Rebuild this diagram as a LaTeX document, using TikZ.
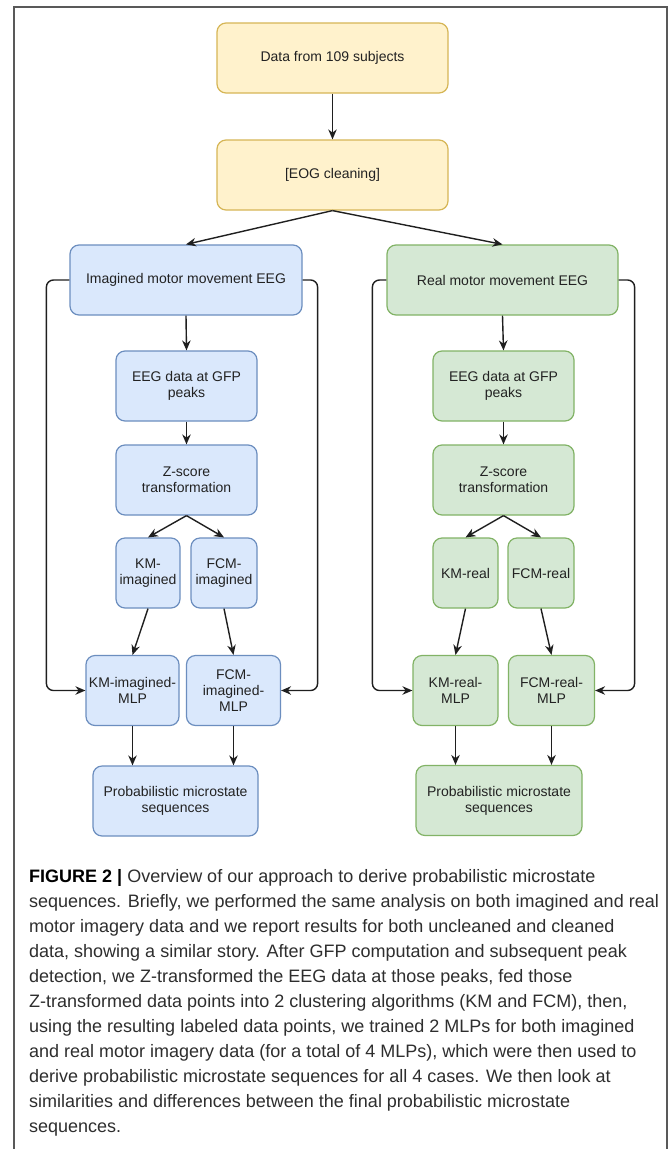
\documentclass[tikz,border=0pt]{standalone}
\usepackage{fontspec}
\setmainfont{Liberation Sans}
\usetikzlibrary{arrows.meta}
\definecolor{yelfill}{HTML}{FFF2CC}
\definecolor{yeldraw}{HTML}{D6B656}
\definecolor{blufill}{HTML}{DAE8FC}
\definecolor{bludraw}{HTML}{6C8EBF}
\definecolor{grnfill}{HTML}{D5E8D4}
\definecolor{grndraw}{HTML}{82B366}
\definecolor{boxtext}{HTML}{222222}
\tikzset{
  box/.style={rectangle, rounded corners=9pt, line width=1.2pt, minimum height=70pt,
    inner sep=2pt, align=center, text=boxtext, font=\fontsize{14}{16}\selectfont},
  yel/.style={box, fill=yelfill, draw=yeldraw},
  blu/.style={box, fill=blufill, draw=bludraw},
  grn/.style={box, fill=grnfill, draw=grndraw},
  arr/.style={-{Stealth[length=10pt,width=8.5pt]}, line width=1.4pt, color=black!88},
  capt/.style={inner sep=0pt, text=black!82, font=\fontsize{18}{25}\selectfont}
}

\begin{document}
\begin{tikzpicture}[x=1pt,y=-1pt]
  \useasboundingbox (0,0) rectangle (669,1149);
  \fill[white] (0,0) rectangle (669,1149);
  \draw[line width=1.5pt, black!65] (14,1149) -- (14,7) -- (667,7) -- (667,1149);

  \node[yel, minimum width=231pt] (data) at (332.5,58) {Data from 109 subjects};
  \node[yel, minimum width=231pt] (eog) at (332.5,175) {[EOG cleaning]};
  \node[blu, minimum width=232pt] (img) at (186,280) {Imagined motor movement EEG};
  \node[grn, minimum width=231pt] (real) at (502.5,280) {Real motor movement EEG};

  % imagined branch
  \node[blu, minimum width=141pt] (gfpI) at (186.5,386) {EEG data at GFP\\peaks};
  \node[blu, minimum width=141pt] (zI) at (186.5,480) {Z-score\\transformation};
  \node[blu, minimum width=64pt] (kmI) at (148,573) {KM-\\imagined};
  \node[blu, minimum width=66pt] (fcmI) at (224,573) {FCM-\\imagined};
  \node[blu, minimum width=93pt] (kmImlp) at (132.5,690.5) {KM-imagined-\\MLP};
  \node[blu, minimum width=94pt] (fcmImlp) at (233.5,690.5) {FCM-\\imagined-\\MLP};
  \node[blu, minimum width=165pt] (probI) at (175.5,801) {Probabilistic microstate\\sequences};

  % real branch
  \node[grn, minimum width=141pt] (gfpR) at (503.5,386) {EEG data at GFP\\peaks};
  \node[grn, minimum width=141pt] (zR) at (503.5,480) {Z-score\\transformation};
  \node[grn, minimum width=65pt] (kmR) at (465.5,573) {KM-real};
  \node[grn, minimum width=66pt] (fcmR) at (541,573) {FCM-real};
  \node[grn, minimum width=85pt] (kmRmlp) at (455.5,690.5) {KM-real-\\MLP};
  \node[grn, minimum width=86pt] (fcmRmlp) at (551.5,690.5) {FCM-real-\\MLP};
  \node[grn, minimum width=166pt] (probR) at (499,800.5) {Probabilistic microstate\\sequences};

  \path[arr]
    (data) edge (eog)
    (eog.south) edge (img.north)
    (eog.south) edge (real.north)
    (img.south) edge (gfpI.north)
    (gfpI) edge (zI)
    (zI.south) edge (kmI.north)
    (zI.south) edge (fcmI.north)
    (kmI.south) edge (kmImlp.north)
    (fcmI.south) edge (fcmImlp.north)
    (real.south) edge (gfpR.north)
    (gfpR) edge (zR)
    (zR.south) edge (kmR.north)
    (zR.south) edge (fcmR.north)
    (kmR.south) edge (kmRmlp.north)
    (fcmR.south) edge (fcmRmlp.north);

  % into the sequences boxes
  \draw[arr] (kmImlp.south) -- (kmImlp.south |- probI.north);
  \draw[arr] (fcmImlp.south) -- (fcmImlp.south |- probI.north);
  \draw[arr] (kmRmlp.south) -- (kmRmlp.south |- probR.north);
  \draw[arr] (fcmRmlp.south) -- (fcmRmlp.south |- probR.north);

  % side loops
  \draw[arr, rounded corners=7pt] (img.west) -- ++(-23,0) |- (kmImlp.west);
  \draw[arr, rounded corners=7pt] (img.east) -- ++(15,0) |- (fcmImlp.east);
  \draw[arr, rounded corners=7pt] (real.west) -- ++(-14,0) |- (kmRmlp.west);
  \draw[arr, rounded corners=7pt] (real.east) -- ++(16,0) |- (fcmRmlp.east);

  % caption
  \foreach \line [count=\i from 0] in {
      {{\color{black}\bfseries FIGURE 2 |} Overview of our approach to derive probabilistic microstate},
      {sequences. Briefly, we performed the same analysis on both imagined and real},
      {motor imagery data and we report results for both uncleaned and cleaned},
      {data, showing a similar story. After GFP computation and subsequent peak},
      {detection, we Z-transformed the EEG data at those peaks, fed those},
      {Z-transformed data points into 2 clustering algorithms (KM and FCM), then,},
      {using the resulting labeled data points, we trained 2 MLPs for both imagined},
      {and real motor imagery data (for a total of 4 MLPs), which were then used to},
      {derive probabilistic microstate sequences for all 4 cases. We then look at},
      {similarities and differences between the final probabilistic microstate},
      {sequences.}}
    \node[capt, anchor=base west] (cap\i) at (29,{882+25*\i}) {\line};
\end{tikzpicture}
\end{document}
